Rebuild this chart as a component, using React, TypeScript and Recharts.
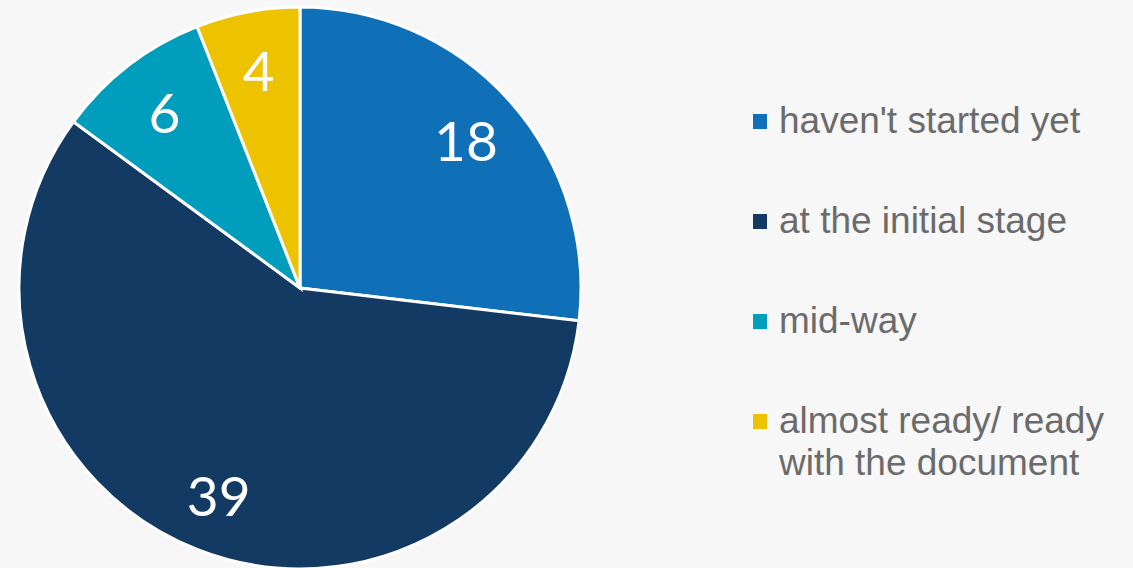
import React from 'react';
import { PieChart, Pie, Cell, Legend } from 'recharts';

const categories = [
  "haven't started yet",
  'at the initial stage',
  'mid-way',
  'almost ready/ ready with the document',
];
const counts = [18, 39, 6, 4];
const COLORS = ['#0F70B7', '#133A62', '#009DBD', '#EDC300'];

const data = categories.map((name, i) => ({ name, value: counts[i] }));

const RADIAN = Math.PI / 180;

const renderLabel = (props: any) => {
  const { cx, cy, midAngle, outerRadius, value } = props;
  const r = outerRadius * 0.79;
  const x = cx + r * Math.cos(-midAngle * RADIAN);
  const y = cy + r * Math.sin(-midAngle * RADIAN);
  return (
    <text
      x={x}
      y={y}
      fill="#fff"
      textAnchor="middle"
      dominantBaseline="central"
      style={{ fontFamily: 'Lato, sans-serif', fontSize: 55 }}
    >
      {value}
    </text>
  );
};

const renderLegend = () => (
  <div style={{ fontFamily: '"Liberation Sans", Arial, sans-serif', color: '#6B6B6B' }}>
    {data.map((d, i) => (
      <div key={d.name} style={{ display: 'flex', alignItems: 'flex-start', marginBottom: 58 }}>
        <div
          style={{
            width: 14,
            height: 15,
            background: COLORS[i],
            marginTop: 14,
            marginRight: 12,
            flexShrink: 0,
          }}
        />
        <div style={{ fontSize: 37, lineHeight: '42px', width: 350 }}>{d.name}</div>
      </div>
    ))}
  </div>
);

export default function App() {
  return (
    <div
      style={{
        position: 'fixed',
        left: 0,
        top: 0,
        width: 1133,
        height: 568,
        background: '#F7F7F7',
        overflow: 'hidden',
      }}
    >
      <PieChart width={1133} height={568} margin={{ top: 0, right: 0, bottom: 0, left: 0 }}>
        <Pie
          data={data}
          dataKey="value"
          cx={300}
          cy={288}
          outerRadius={281}
          startAngle={90}
          endAngle={-270}
          stroke="#fff"
          strokeWidth={3}
          labelLine={false}
          label={renderLabel}
          isAnimationActive={false}
        >
          {data.map((d, i) => (
            <Cell key={d.name} fill={COLORS[i]} />
          ))}
        </Pie>
        <Legend
          content={renderLegend}
          layout="vertical"
          wrapperStyle={{ left: 753, top: 100, width: 380 }}
        />
      </PieChart>
    </div>
  );
}
